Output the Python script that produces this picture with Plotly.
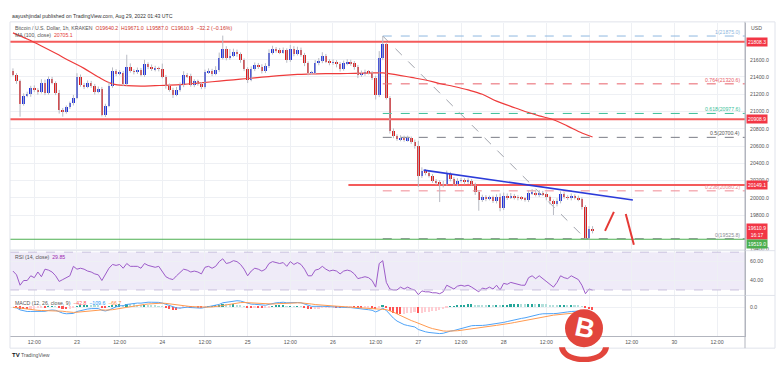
import plotly.graph_objects as go
from plotly.subplots import make_subplots
import pandas as pd

W, H = 778, 377

# ---------------- data ----------------
start_time = "2022-08-22 06:00"   # first visible 1h candle
first_open = 21470.0
closes = [
    21430, 21350, 21093, 21185, 21200, 21278, 21250, 21230, 21335, 21220,
    21381, 21335, 21220, 21016, 21000, 21050, 21100, 21162, 21404, 21312,
    21290, 21330, 21300, 21231, 21260, 20966, 21070, 21300, 21466, 21440,
    21450, 21323, 21523, 21470, 21460, 21480, 21427, 21550, 21520, 21490,
    21500, 21495, 21404, 21300, 21255, 21197, 21255, 21312, 21427, 21408,
    21312, 21350, 21320,
    21289, 21455, 21475, 21440, 21485, 21623, 21727, 21623, 21650, 21693,
    21665, 21600, 21493, 21370, 21493, 21543, 21523, 21466, 21530, 21681,
    21727, 21712, 21690, 21712, 21600, 21727, 21670, 21716, 21660, 21566,
    21450, 21452, 21566, 21585, 21647, 21581, 21566, 21575, 21547, 21493,
    21560, 21581, 21560, 21520, 21427, 21445, 21460, 21450, 21390, 21197,
    21620, 21780,
    21159, 20774, 20716, 20680, 20700, 20670, 20690, 20650, 20600, 20255,
    20313, 20290, 20255, 20197, 20180, 20140, 20165, 20275, 20220, 20160,
    20197, 20205, 20185, 20197, 20160, 20063, 19977, 20005, 19990, 20005,
    19965, 20010, 19883, 20025, 20005, 20025, 20005, 20000, 19990, 19980,
    20052, 20060, 20040, 20060, 20040, 20005, 19965, 19925, 19965, 20040,
    20010, 20000, 20020, 20000, 19985, 19894, 19533, 19640.2, 19610.9,
]
wick_up = [
    30, 15, 20, 25, 30, 20, 25, 20, 40, 35, 25, 20, 15, 30, 25, 20, 15, 30, 40, 25,
    20, 30, 25, 20, 30, 25, 20, 40, 45, 25, 30, 20, 135, 35, 20, 30, 25, 50, 20, 25,
    30, 20, 60, 20, 25, 20, 30, 25, 40, 20, 30, 25, 20,
    20, 30, 25, 20, 40, 60, 153, 30, 75, 35, 25, 20, 15, 20, 30, 25, 20, 25, 30, 40,
    35, 20, 25, 30, 20, 45, 30, 35, 25, 20, 15, 20, 30, 35, 40, 20, 25, 30, 20, 25,
    30, 25, 20, 25, 20, 30, 25, 20, 20, 25, 80, 95,
    20, 20, 30, 20, 25, 20, 30, 20, 25, 60, 40, 20, 25, 20, 20, 25, 30, 40, 25, 20,
    30, 25, 20, 30, 20, 15, 20, 30, 25, 20, 20, 30, 40, 35, 25, 30, 20, 25, 20, 20,
    30, 40, 25, 30, 20, 25, 20, 15, 30, 35, 25, 20, 30, 20, 25, 20, 20, 30.8, 30.8,
]
wick_dn = [
    20, 30, 153, 25, 20, 30, 25, 35, 20, 30, 25, 20, 30, 40, 60, 25, 20, 30, 20, 25,
    30, 20, 25, 35, 20, 23, 30, 20, 25, 30, 20, 30, 25, 20, 30, 25, 20, 25, 30, 20,
    25, 30, 20, 35, 25, 40, 20, 25, 30, 20, 25, 30, 20,
    30, 25, 20, 30, 20, 25, 20, 30, 25, 20, 30, 35, 25, 40, 20, 25, 30, 25, 20, 25,
    20, 30, 25, 20, 35, 25, 30, 20, 25, 40, 30, 25, 20, 30, 25, 20, 30, 25, 35, 30,
    20, 25, 30, 35, 40, 25, 30, 20, 25, 57, 30, 25,
    20, 30, 25, 20, 25, 20, 20, 25, 30, 130, 25, 30, 20, 25, 30, 190, 20, 25, 30, 20,
    25, 20, 30, 25, 20, 30, 127, 25, 30, 20, 25, 30, 40, 25, 30, 20, 25, 30, 20, 25,
    30, 20, 25, 30, 20, 35, 40, 125, 25, 30, 20, 25, 30, 20, 25, 30, 7, 20, 23.9,
]
rsi14 = [
    50, 46, 35, 40, 40, 45, 43, 49, 44, 52, 51, 49, 45, 39, 41, 43, 45, 55, 52, 53,
    52, 50, 49, 47, 46, 40, 47, 53, 57, 56, 57, 53, 58, 55, 55, 55, 53, 58, 56, 55,
    54, 55, 49, 44, 42, 41, 45, 48, 52, 51, 49, 50, 49,
    47, 54, 55, 53, 55, 60, 63, 58, 59, 61, 60, 57, 52, 45, 50, 53, 52, 50, 52, 58,
    60, 59, 58, 59, 55, 60, 57, 59, 57, 52, 45, 45, 51, 52, 55, 52, 50, 51, 50, 47,
    50, 51, 50, 47, 42, 43, 44, 43, 40, 33, 58, 61,
    38, 31, 30, 30, 33, 31, 33, 31, 30, 25, 29, 28, 28, 27, 27, 26, 28, 35, 33, 31,
    34, 35, 34, 35, 33, 30, 28, 32, 31, 33, 31, 35, 30, 37, 36, 38, 37, 36, 35, 35,
    43, 45, 42, 45, 42, 39, 35, 33, 38, 45, 43, 42, 45, 43, 41, 35, 26, 31, 29.85,
]
# MA(100, close) read every 4th candle, last value = legend value
ma100_every4 = [
    21912, 21840, 21760, 21675, 21585, 21500, 21400, 21320, 21300, 21295,
    21300, 21305, 21315, 21330, 21345, 21360, 21375, 21390, 21405, 21420,
    21430, 21435, 21440, 21440, 21442, 21445, 21448, 21425, 21395, 21365,
    21325, 21290, 21250, 21200, 21120, 21060, 21000, 20950, 20905, 20830,
    20750,
]
ma100_last = 20705.1

fib_ratio = ["1", "0.764", "0.618", "0.5", "0.236", "0"]
fib_price = [21875.0, 21320.6, 20977.6, 20700.4, 20080.2, 19525.8]
fib_color = ["#8FB8E0", "#E8606A", "#3DBF9A", "#7A7D86", "#F08A93", "#8A8D96"]

levels_full = [21808.3, 20908.9]
level_mid = 20149.1
level_mid_from = "2022-08-26 04:20"
support_level = 19519.0
last_close = 19610.9

trend_t = ["2022-08-27 01:30", "2022-08-29 12:20"]
trend_p = [20320, 19975]
fc1_t = ["2022-08-29 04:30", "2022-08-29 07:00"]
fc1_p = [19617, 19836]
fc2_t = ["2022-08-29 10:20", "2022-08-29 12:37"]
fc2_p = [19813, 19456]

tick_times = pd.date_range("2022-08-22 12:00", "2022-08-30 12:00", freq="12h")
tick_text = ["12:00", "23", "12:00", "24", "12:00", "25", "12:00", "26", "12:00",
             "27", "12:00", "28", "12:00", "29", "12:00", "30", "12:00"]
price_ticks = [19400, 19800, 20000, 20200, 20400, 20600, 20800, 21000, 21200, 21400, 21600]
rsi_ticks = [40, 60]

assert len(closes) == len(wick_up) == len(wick_dn) == len(rsi14) == 164

# ---------------- derived ----------------
n = len(closes)
times = pd.date_range(start_time, periods=n, freq="1h")
opens = [first_open] + closes[:-1]
highs = [max(o, c) + u for o, c, u in zip(opens, closes, wick_up)]
lows = [min(o, c) - d for o, c, d in zip(opens, closes, wick_dn)]
ma_idx = list(range(0, n, 4)) + [n - 1]
ma_vals = ma100_every4 + [ma100_last]
ma_times = [times[i] for i in ma_idx]

s = pd.Series(closes, dtype=float)
macd = s.ewm(span=12, adjust=False).mean() - s.ewm(span=26, adjust=False).mean()
signal = macd.ewm(span=9, adjust=False).mean()
hist = macd - signal
hist_col = []
for k in range(n):
    prev = hist.iloc[k - 1] if k else 0
    h = hist.iloc[k]
    if h >= 0:
        hist_col.append("#26A69A" if h >= prev else "#B2DFDB")
    else:
        hist_col.append("#FF5252" if h < prev else "#FFCDD2")

# ---------------- figure ----------------
FONT = "Liberation Sans"
UP, DN = "#2233DD", "#DD1C1C"
GRID = "#EEF0F4"

def py(px):
    return 1 - px / H

def pxx(px):
    return px / W

fig = make_subplots(rows=3, cols=1, shared_xaxes=True, vertical_spacing=0)
xdom = [pxx(10), pxx(745)]
for ax in ["xaxis", "xaxis2", "xaxis3"]:
    fig.layout[ax].update(domain=xdom, range=["2022-08-22 05:10", "2022-08-30 19:52"],
                          tickvals=tick_times, ticktext=tick_text, showgrid=True,
                          gridcolor=GRID, gridwidth=1, zeroline=False, ticks="",
                          showticklabels=False, showline=False)
fig.layout.xaxis3.update(showticklabels=True, tickfont=dict(family=FONT, size=5.2, color="#555"),
                         showline=True, linecolor="#B2B5BE", linewidth=1, ticklabelstandoff=1)

fig.layout.yaxis.update(domain=[py(252), py(23)], range=[19386.8, 22027.4], side="right",
                        tickvals=price_ticks, ticktext=[f"{v:.1f}" for v in price_ticks],
                        tickfont=dict(family=FONT, size=5.2, color="#555"), showgrid=True,
                        gridcolor=GRID, zeroline=False, ticks="", ticklabelstandoff=3,
                        showline=True, linecolor="#B2B5BE")
fig.layout.yaxis2.update(domain=[py(297), py(252)], range=[24.2, 71.6], side="right",
                         tickvals=rsi_ticks, ticktext=[f"{v:.2f}" for v in rsi_ticks],
                         tickfont=dict(family=FONT, size=5.2, color="#555"), showgrid=True,
                         gridcolor=GRID, zeroline=False, ticks="", ticklabelstandoff=3,
                         showline=True, linecolor="#B2B5BE")
lo = min(macd.min(), signal.min()) * 1.1
hi = -lo * (12 / 29.0)
fig.layout.yaxis3.update(domain=[py(338), py(297)], range=[lo, hi], side="right",
                         tickvals=[0], ticktext=["0.0"],
                         tickfont=dict(family=FONT, size=5.2, color="#555"), showgrid=True,
                         gridcolor=GRID, zeroline=False, ticks="", ticklabelstandoff=3,
                         showline=True, linecolor="#B2B5BE")

# fib lines
fib_start = times[104]
for lvl, col in zip(fib_price, fib_color):
    fig.add_trace(go.Scatter(x=[fib_start, "2022-08-31 00:00"], y=[lvl, lvl], mode="lines",
                             line=dict(color=col, width=1, dash="dash"), hoverinfo="skip"), 1, 1)
fig.add_trace(go.Scatter(x=[times[104], times[161]], y=[fib_price[0], fib_price[-1]], mode="lines",
                         line=dict(color="#A0A3AC", width=1, dash="dash"), hoverinfo="skip"), 1, 1)

# horizontal levels
for lvl in levels_full:
    fig.add_trace(go.Scatter(x=["2022-08-21", "2022-08-31"], y=[lvl, lvl], mode="lines",
                             line=dict(color="#F45B5B", width=2), hoverinfo="skip"), 1, 1)
fig.add_trace(go.Scatter(x=[level_mid_from, "2022-08-31"], y=[level_mid, level_mid], mode="lines",
                         line=dict(color="#F45B5B", width=2), hoverinfo="skip"), 1, 1)
fig.add_trace(go.Scatter(x=["2022-08-21", "2022-08-31"], y=[support_level, support_level], mode="lines",
                         line=dict(color="#4CAF50", width=1.2), hoverinfo="skip"), 1, 1)

# MA
fig.add_trace(go.Scatter(x=ma_times, y=ma_vals, mode="lines", line=dict(color="#EE3B3B", width=1.2,
                         shape="spline"), hoverinfo="skip"), 1, 1)

# wicks
wx, wy = [], []
for t, h_, l_ in zip(times, highs, lows):
    wx += [t, t, None]
    wy += [l_, h_, None]
fig.add_trace(go.Scatter(x=wx, y=wy, mode="lines", line=dict(color="#B8BBC4", width=1),
                         hoverinfo="skip"), 1, 1)
# bodies
base = [min(o, c) for o, c in zip(opens, closes)]
hgt = [max(abs(c - o), 4) for o, c in zip(opens, closes)]
cols = [UP if c >= o else DN for o, c in zip(opens, closes)]
fig.add_trace(go.Bar(x=times, y=hgt, base=base, marker=dict(color=cols, line=dict(width=0)),
                     width=0.72 * 3600 * 1000, hoverinfo="skip"), 1, 1)

# trend line and forecast
fig.add_trace(go.Scatter(x=trend_t, y=trend_p, mode="lines", line=dict(color="#2B3BD9", width=1.6),
                         hoverinfo="skip"), 1, 1)
for tt, pp in [(fc1_t, fc1_p), (fc2_t, fc2_p)]:
    fig.add_trace(go.Scatter(x=tt, y=pp, mode="lines", line=dict(color="#E53935", width=2),
                             hoverinfo="skip"), 1, 1)

# RSI
fig.add_shape(type="rect", xref="x2 domain", yref="y2", x0=0, x1=1, y0=30, y1=70,
              fillcolor="rgba(126,87,194,0.12)", line_width=0, layer="below")
for v in [30, 70]:
    fig.add_shape(type="line", xref="x2 domain", yref="y2", x0=0, x1=1, y0=v, y1=v,
                  line=dict(color="#C9C0DD", width=1, dash="dash"))
fig.add_trace(go.Scatter(x=times, y=rsi14, mode="lines", line=dict(color="#9C5BC8", width=1),
                         hoverinfo="skip"), 2, 1)

# MACD
fig.add_trace(go.Bar(x=times, y=hist, marker=dict(color=hist_col, line=dict(width=0)),
                     width=0.45 * 3600 * 1000, hoverinfo="skip"), 3, 1)
fig.add_trace(go.Scatter(x=times, y=macd, mode="lines", line=dict(color="#4FA3F7", width=1),
                         hoverinfo="skip"), 3, 1)
fig.add_trace(go.Scatter(x=times, y=signal, mode="lines", line=dict(color="#FF9A50", width=1),
                         hoverinfo="skip"), 3, 1)

# frame / separators
fig.add_shape(type="rect", xref="paper", yref="paper", x0=pxx(10), x1=pxx(775), y0=py(350), y1=py(22),
              line=dict(color="#E0E3EB", width=1))
for yy in [252, 297]:
    fig.add_shape(type="line", xref="paper", yref="paper", x0=pxx(10), x1=pxx(775), y0=py(yy), y1=py(yy),
                  line=dict(color="#E0E3EB", width=1))
fig.add_shape(type="line", xref="paper", yref="paper", x0=pxx(745), x1=pxx(745), y0=py(350), y1=py(22),
              line=dict(color="#B2B5BE", width=1))

# annotations
def ann(x, y, text, size=5.2, color="#444", xanchor="left", yanchor="middle", **kw):
    fig.add_annotation(x=x, y=y, xref="paper", yref="paper", text=text, showarrow=False,
                       xanchor=xanchor, yanchor=yanchor, font=dict(family=FONT, size=size, color=color), **kw)

ann(pxx(10), py(16), "aayushjindal published on TradingView.com, Aug 29, 2022 01:43 UTC", color="#333")
ann(pxx(13), py(28), "Bitcoin / U.S. Dollar, 1h, KRAKEN&nbsp; <span style='color:#D0342C'>O19640.2&nbsp; H19671.0&nbsp; L19587.0&nbsp; C19610.9&nbsp; −32.2 (−0.16%)</span>", color="#555")
ann(pxx(13), py(35), "MA (100, close)&nbsp; <span style='color:#E53935'>20705.1</span>", color="#555")
ann(pxx(13), py(258), "RSI (14, close)&nbsp; <span style='color:#9C27B0'>29.85</span>", color="#555")
ann(pxx(13), py(305), "MACD (12, 26, close, 9)&nbsp; <span style='color:#FF5252'>−42.8</span>&nbsp; <span style='color:#2196F3'>−109.6</span>&nbsp; <span style='color:#FF8A3D'>−66.7</span>", color="#555")
ann(pxx(749), py(28), "USD", color="#555")

for r, lvl, col in zip(fib_ratio, fib_price, fib_color):
    fig.add_annotation(x=pxx(742), y=lvl, xref="paper", yref="y", text=f"{r}({lvl:.1f})", showarrow=False,
                       xanchor="right", yanchor="bottom", yshift=-1,
                       font=dict(family=FONT, size=5.2, color=col if r != "0.5" else "#555"))

def price_tag(val, bg, text=None, yshift=0):
    fig.add_annotation(x=pxx(746), y=val, xref="paper", yref="y", text=text or f"{val:.1f}",
                       showarrow=False, xanchor="left", yanchor="middle", yshift=yshift,
                       bgcolor=bg, borderpad=1, font=dict(family=FONT, size=5, color="white"))

for lvl in levels_full:
    price_tag(lvl, "#F23645")
price_tag(level_mid, "#F23645")
price_tag(last_close, "#F23645", text=f"{last_close:.1f}<br>16:17")
price_tag(support_level, "#4CAF50", yshift=-5)

# TradingView footer
ann(pxx(10), py(357), "<b>TV</b>", size=6, color="#131722")
ann(pxx(19), py(357), "TradingView", size=5.2, color="#555")

# bitcoin logo
cx, cy, r = 584, 330, 19
fig.add_shape(type="circle", xref="paper", yref="paper", x0=pxx(cx - r), x1=pxx(cx + r),
              y0=py(cy + r), y1=py(cy - r), fillcolor="#E2453C", line_width=0, layer="above")
def P(x, y):
    return f"{pxx(x):.5f},{py(y):.5f}"
path = (f"M {P(559, 349)} C {P(561, 369)} {P(607, 369)} {P(609, 349)} "
        f"L {P(603, 349)} C {P(601, 362)} {P(567, 362)} {P(565, 349)} Z")
fig.add_shape(type="path", xref="paper", yref="paper", path=path, fillcolor="#E2453C",
              line_width=0, layer="above")
ann(pxx(cx + 1), py(cy), "<b>B</b>", size=27, color="white", xanchor="center", textangle=12)

fig.update_layout(width=W, height=H, margin=dict(l=0, r=0, t=0, b=0), paper_bgcolor="white",
                  plot_bgcolor="white", showlegend=False, barmode="overlay", bargap=0)
fig.write_html("out.html", config={"displayModeBar": False},
               post_script="document.body.style.margin='0px';")
